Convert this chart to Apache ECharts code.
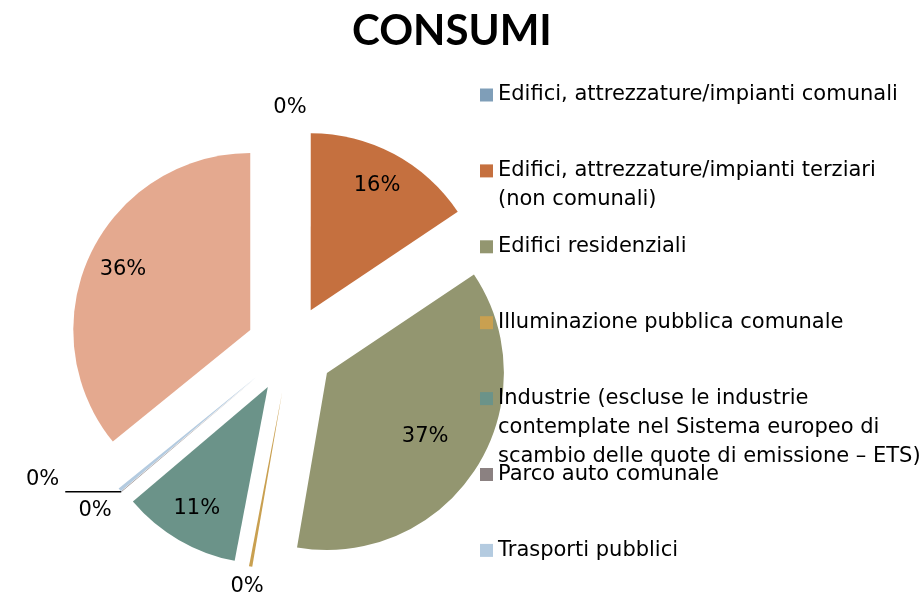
<!DOCTYPE html>
<html>
<head>
<meta charset="utf-8">
<script src="https://cdn.jsdelivr.net/npm/echarts@6/dist/echarts.min.js"></script>
<style>
  html, body { margin: 0; padding: 0; background: #fff; }
  #container { width: 923px; height: 597px; }
</style>
</head>
<body>
<div id="container"></div>
<script>
// categories of the pie (the last one is not listed in the legend of the original)
const categories = [
  'Edifici, attrezzature/impianti comunali',
  'Edifici, attrezzature/impianti terziari (non comunali)',
  'Edifici residenziali',
  'Illuminazione pubblica comunale',
  'Industrie (escluse le industrie contemplate nel Sistema europeo di scambio delle quote di emissione – ETS)',
  'Parco auto comunale',
  'Trasporti pubblici',
  'Trasporti privati e commerciali'
];
// share of consumption, %
const shares = [0.002, 15.6, 37.1, 0.3, 10.8, 0.05, 0.3, 35.848];
const colors = ['#7f9eb8', '#c5703f', '#939670', '#c9a050', '#6b9389', '#8b8181', '#b4cbe0', '#e4a98f'];
const legendNames = categories.slice(0, 7);
const wrapped = {
  'Edifici, attrezzature/impianti terziari (non comunali)':
    'Edifici, attrezzature/impianti terziari\n(non comunali)',
  'Industrie (escluse le industrie contemplate nel Sistema europeo di scambio delle quote di emissione – ETS)':
    'Industrie (escluse le industrie\ncontemplate nel Sistema europeo di\nscambio delle quote di emissione – ETS)'
};

// label placement per slice: big slices get their label inside, tiny ones outside
const plainLabel = function (len) { return { labelLine: { show: false, length: len, length2: 0 } }; };
const labelCfg = [
  plainLabel(20),
  plainLabel(-36),
  plainLabel(-60),
  plainLabel(20),
  plainLabel(-36),
  {
    labelLine: { show: true, length: 0, length2: 56, lineStyle: { color: '#000', width: 1.5 } },
    label: { distanceToLabelLine: 6, lineHeight: 24 }
  },
  plainLabel(32),
  plainLabel(-36)
];

const lineH = 29;
const legendStep = 75.9;
const legendFont = { fontFamily: 'DejaVu Sans', fontSize: 21, color: '#000', lineHeight: lineH };

// legend text: first line level with the icon, further lines below it
function legendText(name) {
  const text = wrapped[name] || name;
  const n = text.split('\n').length;
  return '\n'.repeat(n - 1) + text;
}

// one legend block per entry so that each entry keeps the same pitch
const legends = legendNames.map(function (name, i) {
  const n = (wrapped[name] || name).split('\n').length;
  const iconCenter = 95 + i * legendStep;
  return {
    data: [name],
    orient: 'vertical',
    left: 480,
    top: iconCenter - (2 * n - 1) * lineH / 2,
    itemWidth: 13,
    itemHeight: 13,
    icon: 'rect',
    selectedMode: false,
    padding: 0,
    formatter: legendText,
    textStyle: legendFont
  };
});

const dom = document.getElementById('container');
const myChart = echarts.init(dom);

const option = {
  animation: false,
  color: colors,
  title: {
    text: 'CONSUMI',
    left: 352,
    top: 10,
    padding: 0,
    textStyle: { fontFamily: 'Lato', fontWeight: 'bold', fontSize: 42, color: '#000' }
  },
  legend: legends,
  series: [
    {
      name: 'Consumi',
      type: 'pie',
      center: [290, 349],
      radius: [0, 177],
      startAngle: 90,
      clockwise: true,
      selectedMode: 'multiple',
      selectedOffset: 44,
      avoidLabelOverlap: false,
      select: { itemStyle: { borderWidth: 0 } },
      emphasis: { disabled: true },
      label: {
        show: true,
        position: 'outside',
        distanceToLabelLine: 0,
        fontFamily: 'DejaVu Sans',
        fontSize: 21,
        color: '#000',
        formatter: function (p) {
          return Math.round(p.percent) + '%' + (p.dataIndex === 5 ? '\n' : '');
        }
      },
      labelLayout: function (p) {
        return p.dataIndex === 5 ? {} : { align: 'center' };
      },
      data: categories.map(function (name, i) {
        return Object.assign({ name: name, value: shares[i], selected: true }, labelCfg[i]);
      })
    }
  ]
};

myChart.setOption(option);
</script>
</body>
</html>
